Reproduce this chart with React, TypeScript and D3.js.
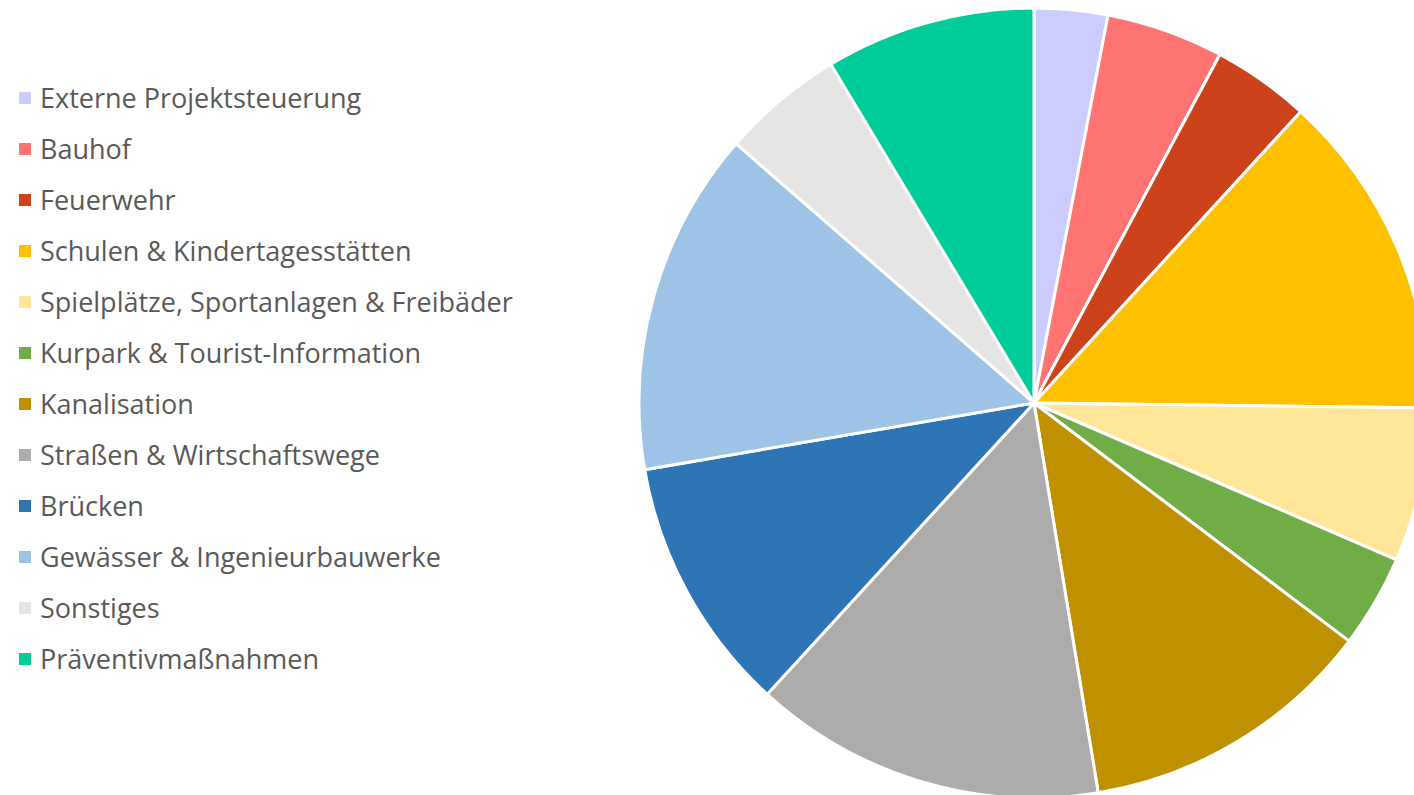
import React, { useRef, useEffect } from 'react';
import * as d3 from 'd3';

const categories = [
  'Externe Projektsteuerung',
  'Bauhof',
  'Feuerwehr',
  'Schulen & Kindertagesstätten',
  'Spielplätze, Sportanlagen & Freibäder',
  'Kurpark & Tourist-Information',
  'Kanalisation',
  'Straßen & Wirtschaftswege',
  'Brücken',
  'Gewässer & Ingenieurbauwerke',
  'Sonstiges',
  'Präventivmaßnahmen'
];

// share of each slice (percent)
const values = [3.0, 4.8, 4.0, 13.4, 6.3, 3.8, 12.1, 14.4, 10.5, 14.1, 5.0, 8.6];

const colors = [
  '#ccccff', '#ff7373', '#cc421a', '#ffc000', '#ffe699', '#70ad47',
  '#bf9000', '#aeabab', '#2e75b6', '#9dc3e6', '#e5e5e5', '#00cc99'
];

const App = () => {
  const svgRef = useRef<SVGSVGElement>(null);

  useEffect(() => {
    const svg = d3.select(svgRef.current);
    svg.selectAll('*').remove();

    const cx = 1034;
    const cy = 403;
    const radius = 395;

    const pie = d3.pie<number>().sort(null).value(d => d);
    const arc = d3.arc<d3.PieArcDatum<number>>().innerRadius(0).outerRadius(radius);

    const g = svg.append('g').attr('transform', `translate(${cx}, ${cy})`);
    g.selectAll('path')
      .data(pie(values))
      .enter()
      .append('path')
      .attr('d', arc)
      .attr('fill', (d, i) => colors[i])
      .attr('stroke', '#ffffff')
      .attr('stroke-width', 3)
      .attr('stroke-linejoin', 'round');

    // legende
    const legend = svg.append('g');
    const row = legend.selectAll('g')
      .data(categories)
      .enter()
      .append('g')
      .attr('transform', (d, i) => `translate(0, ${98 + i * 51})`);

    row.append('rect')
      .attr('x', 19)
      .attr('y', -6)
      .attr('width', 12)
      .attr('height', 12)
      .attr('fill', (d, i) => colors[i]);

    row.append('text')
      .attr('x', 40)
      .attr('y', 0)
      .attr('dy', '0.36em')
      .style('font-family', '"Open Sans", sans-serif')
      .style('font-size', '27px')
      .style('fill', '#595959')
      .text(d => d);
  }, []);

  return (
    <svg ref={svgRef} width={1414} height={795}
      style={{ position: 'absolute', left: 0, top: 0, background: '#ffffff' }} />
  );
};

export default App;
